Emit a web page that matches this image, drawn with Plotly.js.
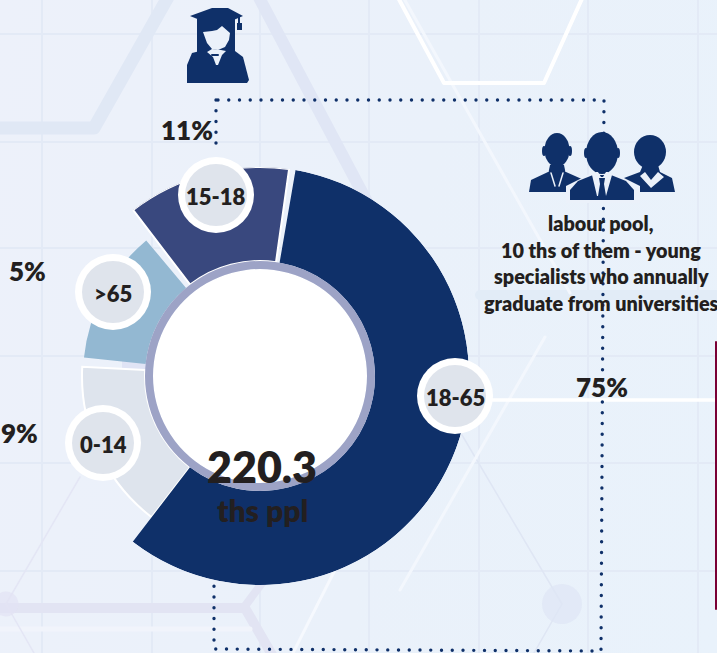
<!DOCTYPE html>
<html><head><meta charset="utf-8">
<script src="https://cdn.plot.ly/plotly-3.0.1.min.js"></script>
<style>
html,body{margin:0;padding:0;width:717px;height:653px;overflow:hidden;background:linear-gradient(100deg,#edf1fa 0%,#eaf1fa 55%,#e9f2fb 100%);}
.shapelayer path{stroke-linecap:round;stroke-linejoin:round;}
</style></head><body><div id="chart" style="width:717px;height:653px"></div>
<script>
// data, drawing order back to front
const groups = ['0-14', '>65', '15-18', '18-65'];
const shareLabels = ['9%', '5%', '11%', '75%'];
const arcStartDeg = [217.5, 276, 322.6, 9.8];
const arcSweepDeg = [55.5, 44, 45.4, 207.7];
const outerRadius = [178, 177, 209, 209];
const sliceColors = ['#dee4ed', '#93b8d2', '#39487e', '#0f3069'];
const sliceLineWidths = [2, 0, 2, 0];
const ringInner = 107, ringOuter = 115, fullOuter = 209;
const totalValue = '220.3', totalUnit = 'ths ppl';
const caption = ['labour pool,', '10 ths of them - young', 'specialists who annually', 'graduate from universities'];
const bubbleX = [103, 113, 216, 455];
const bubbleY = [443, 292, 195, 396];
const shareX = [19, 27, 187, 602];
const shareY = [433, 271, 130, 387];
const gridX = [42, 152, 260, 369, 479, 588, 698];
const gridY = [34, 142, 248, 356, 463, 571];

const NAVY = '#0f3069', INK = '#231f20', FONT = 'Lato, Carlito, sans-serif';

const shapes = [];
const add = (path, o) => shapes.push(Object.assign({type:'path', xref:'x', yref:'y', path, layer:'below', line:{width:0}}, o));
const stroke = (path, color, width, o) => add(path, Object.assign({line:{color, width}}, o||{}));
const fill = (path, color, o) => add(path + ' Z', Object.assign({fillcolor:color, line:{width:0}}, o||{}));
const ell = (cx, cy, rx, ry, color, layer) => shapes.push({type:'circle', xref:'x', yref:'y', x0:cx-rx, x1:cx+rx, y0:cy-ry, y1:cy+ry,
  fillcolor:color, line:{width:0}, layer:layer||'above'});

// background grid
gridX.forEach(x => stroke(`M${x},0 L${x},653`, '#e3eaf6', 2));
gridY.forEach(y => stroke(`M0,${y} L717,${y}`, '#e3eaf6', 2));
// background bands and network lines
stroke('M-10,128 L94,128 L172,-10', '#e0e8f5', 13);
stroke('M255,-10 L390,245', '#e0e6f5', 12);
stroke('M0,608 L245,608 L275,660', '#e2e4f3', 10);
stroke('M245,606 L268,575', '#e2e4f3', 8);
stroke('M0,629 L250,629', '#f1f4fb', 5);
stroke('M480,295 L717,295', '#e2ecf7', 10);
fill('M122,361 L148,361 L148,372 L122,372', '#e0e4f5');
stroke('M6,604 L80,477', '#e4e6f5', 1.5);
stroke('M6,604 L38,660', '#e4e6f5', 1.5);
stroke('M462,435 L562,604 L530,660', '#dfe6f4', 1.5);
stroke('M402,-5 L570,293', '#f3f7fd', 3);
stroke('M545,337 L400,590', '#f3f7fd', 3);
stroke('M340,560 L292,655', '#f6f9fe', 3);
stroke('M395,-8 L444,83 L544,83 L585,-8', '#ffffff', 4);
stroke('M490,400 L716,400', '#ffffff', 3.5);
stroke('M716,342 L716,609', '#7a0035', 2);
// dotted frame
const DOTS = '0px,10.75px';
stroke('M218,100 L604,100 L601,651 L214,649 L214,585', NAVY, 3.4, {line:{color:NAVY, width:3.4, dash:DOTS}});
stroke('M216,100 L216,150', NAVY, 3.4, {line:{color:NAVY, width:3.4, dash:DOTS}});

// graduate icon
const above = {layer:'above'};
const BG = '#ebf1fa';
fill('M197,20 L235,20 L235,53 L197,53', NAVY, above);
fill('M187,83 L187,65 L192,53 L200,51 L235,51 L243,57 L249,80 L247,83', NAVY, above);
fill('M190,16 L212,8 L228,8 L243,16 L217,27', NAVY, above);
fill('M197,19 L235,19 L235,27 L217,31 L203,33 L197,30', NAVY, above);
fill('M238,17 L240,17 L240,23 L242,23 L242,30 L237,30 L237,23 L238,23', NAVY, above);
fill('M203,32 L212,31 L217,30 L222,26 L230,33 L229,40 L225,47 L218,50 L212,49 L207,43', BG, above);
fill('M207,52 L212,49 L221,50 L226,51 L222,55 L218,65 L216,65 L213,57', BG, above);
stroke('M212,55 L218,55', NAVY, 2, above);

// people icon
ell(557, 150, 12.5, 17, NAVY);
ell(544, 151, 2, 5, NAVY);
ell(570, 151, 2, 5, NAVY);
fill('M529,192 L531,180 L548,172 L566,172 L584,180 L590,192', NAVY, above);
fill('M550,165 L564,165 L566,175 L548,175', NAVY, above);
ell(650, 152, 16, 17, NAVY);
fill('M643,165 L658,165 L660,172 L672,178 L675,192 L620,192 L624,178 L640,172', NAVY, above);
fill('M645,172 L651,180 L658,172 L664,177 L651,188 L640,176', BG, above);
fill('M566,203 L566,186 L590,174 L616,174 L640,186 L640,203', BG, above);
ell(602, 153, 16, 21, NAVY);
ell(586, 153, 2, 5, NAVY);
ell(618, 153, 2, 5, NAVY);
fill('M570,200 L570,190 L578,181 L593,175 L611,175 L626,181 L634,190 L634,200', NAVY, above);
fill('M592,175 L596,172 L598,172 L601,177 L603,177 L606,172 L608,172 L612,175 L606,196 L597,196', BG, above);
fill('M599,178 L605,178 L604,184 L606,196 L598,196 L600,184', NAVY, above);
stroke('M551,173 L555,186', BG, 1.5, above);
stroke('M563,173 L559,186', BG, 1.5, above);

// bubbles
groups.forEach((g, i) => {
  ell(bubbleX[i], bubbleY[i], 38, 38, '#ffffff');
  ell(bubbleX[i], bubbleY[i], 31, 31, '#dfe4ec');
});

const annotations = [];
const note = (x, y, text, size) => annotations.push({xref:'x', yref:'y', x, y, text, showarrow:false,
  xanchor:'center', yanchor:'middle', font:{family:FONT, size, color:INK, weight:800}});
groups.forEach((g, i) => note(bubbleX[i], bubbleY[i] + 1, g.replace('>', '&gt;'), 22));
shareLabels.forEach((s, i) => note(shareX[i], shareY[i], s, 26));
note(262, 466, totalValue, 43);
note(262, 510, totalUnit, 30);
caption.forEach((line, i) => note(601, 223 + i * 26.7, line, 19.8));

const traces = [
  // background network nodes, pixel-aligned cartesian layer
  {type:'scatter', mode:'markers', x:[6, 562], y:[604, 604], hoverinfo:'skip', xaxis:'x', yaxis:'y',
   marker:{color:['#e2e3f3', '#dee6f5'], size:[25, 40], line:{width:0}}},
  {type:'barpolar', subplot:'polar', hoverinfo:'skip',
   theta:arcStartDeg.map((s, i) => s + arcSweepDeg[i] / 2), width:arcSweepDeg,
   base:groups.map(() => ringOuter), r:outerRadius.map(v => v - ringOuter), text:groups,
   marker:{color:sliceColors, line:{color:'#ffffff', width:sliceLineWidths}}},
  {type:'barpolar', subplot:'polar', hoverinfo:'skip', theta:[180], width:[359.99], base:[0], r:[ringInner],
   marker:{color:'#ffffff', line:{width:0}}},
  {type:'barpolar', subplot:'polar', hoverinfo:'skip', theta:[180], width:[359.99], base:[ringInner], r:[ringOuter - ringInner],
   marker:{color:'#9da3c6', line:{width:0}}}
];

Plotly.newPlot('chart', traces, {
  width:717, height:653, autosize:false, showlegend:false,
  margin:{l:0, r:0, t:0, b:0, pad:0},
  paper_bgcolor:'rgba(0,0,0,0)', plot_bgcolor:'rgba(0,0,0,0)',
  xaxis:{range:[0,717], visible:false, fixedrange:true, domain:[0,1]},
  yaxis:{range:[653,0], visible:false, fixedrange:true, domain:[0,1]},
  polar:{
    domain:{x:[51/717, 469/717], y:[(653-585)/653, (653-167)/653]},
    bgcolor:'rgba(0,0,0,0)', barmode:'overlay', hole:0,
    radialaxis:{visible:false, range:[0, fullOuter]},
    angularaxis:{visible:false, rotation:90, direction:'clockwise'}
  },
  shapes, annotations
}, {displayModeBar:false, staticPlot:true});
</script></body></html>
